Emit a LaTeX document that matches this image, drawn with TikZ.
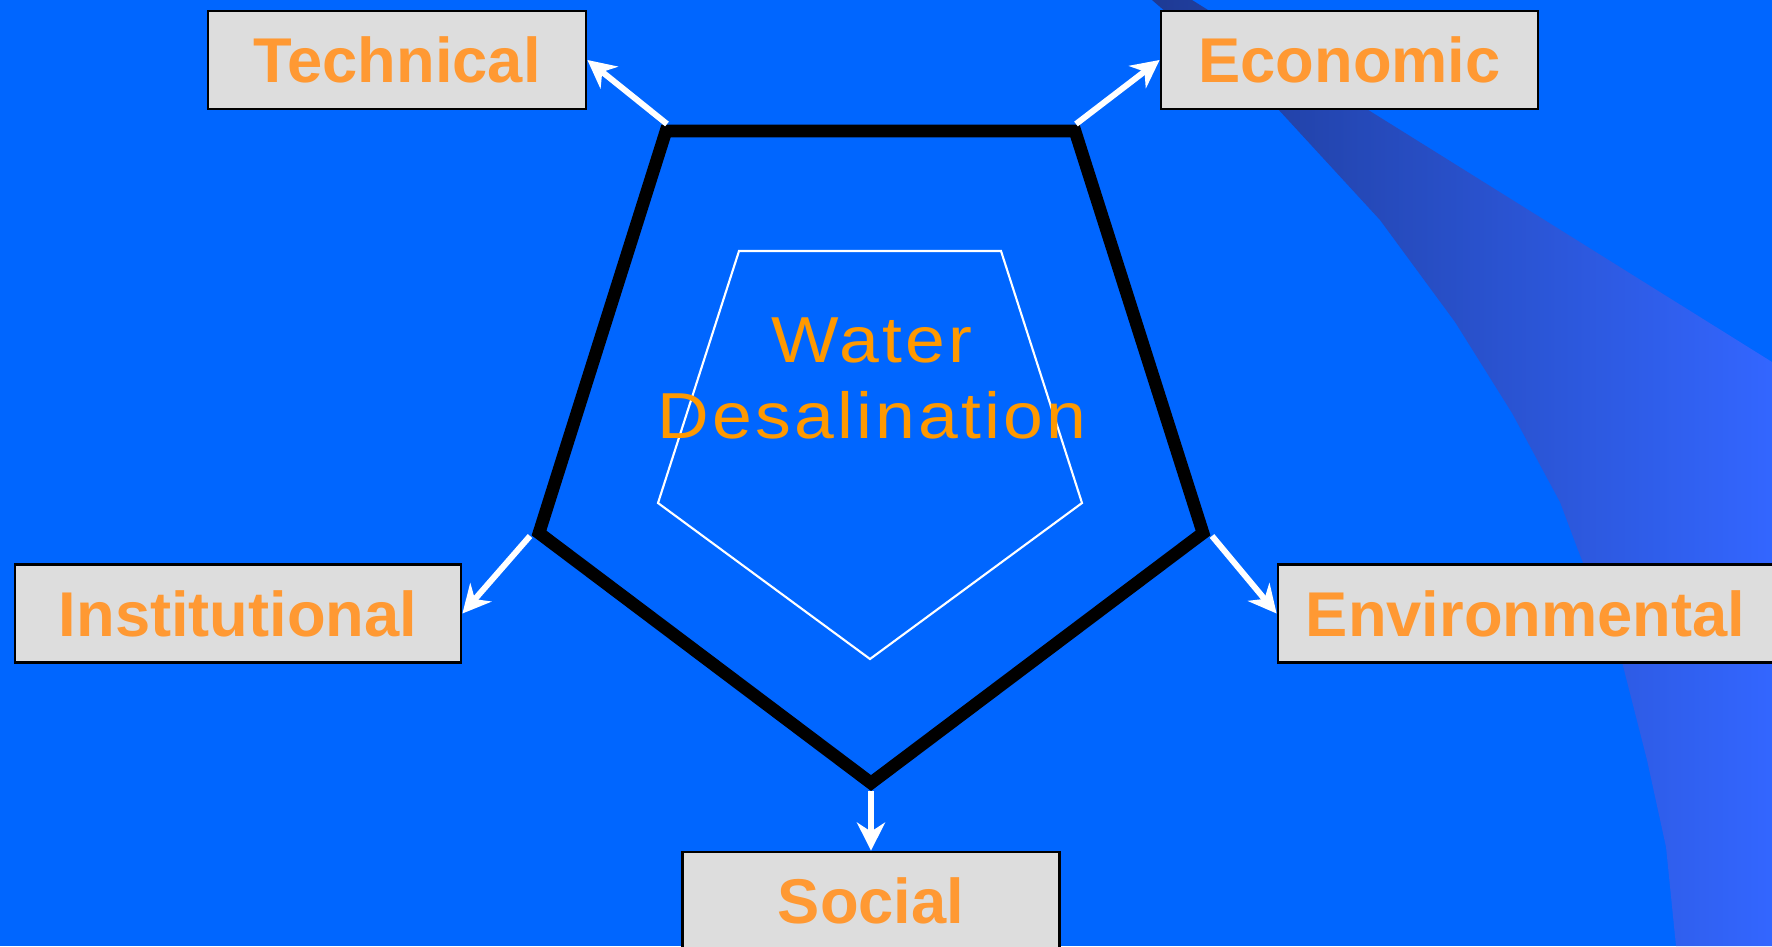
\documentclass[tikz,border=0pt]{standalone}
\usepackage{fontspec}
\setmainfont{Liberation Sans}
\newfontfamily\spacedfont[LetterSpace=5, FakeStretch=1.1]{Liberation Sans}
\usetikzlibrary{arrows.meta}
\definecolor{slideblue}{HTML}{0066FF}
\definecolor{boxgray}{HTML}{DDDDDD}
\definecolor{labelorange}{HTML}{FF9933}
\definecolor{waterorange}{HTML}{FF9900}
\definecolor{swooshdark}{HTML}{1E3A94}
\definecolor{swooshlight}{HTML}{3366FF}

\begin{document}
\begin{tikzpicture}[x=0.1mm, y=-0.1mm,
    >={Stealth[length=2.8mm,width=2.8mm,inset=0.9mm]},
    facet/.style={draw=black, line width=0.8pt, fill=boxgray, text=labelorange,
      font=\fontsize{18}{21}\selectfont\bfseries, inner sep=0pt, minimum height=9.8mm},
    rim/.style={line width=3.6pt, line join=miter},
    link/.style={->, white, line width=1.7pt}
  ]
  \useasboundingbox (0,0) rectangle (1772,946);
  \clip (0,0) rectangle (1772,946);
  \fill[slideblue] (0,0) rectangle (1772,946);

  % swoosh down the right side
  \shade[left color=swooshdark, right color=swooshlight]
    (1152,0) -- (1192,0) -- (1772,362) -- (1772,946) -- (1676,946)
    -- (1666,847) -- (1647,760) -- (1622,662) -- (1578,550) -- (1560,502)
    -- (1512,413) -- (1455,322) -- (1380,220) -- (1277,108) -- cycle;

  \coordinate (P1) at (666,131);   % top left
  \coordinate (P2) at (1075,131);  % top right
  \coordinate (P3) at (1203,533);  % right
  \coordinate (P4) at (871,783);   % bottom
  \coordinate (P5) at (539,533);   % left

  % where the arrows leave the rim
  \coordinate (F1) at (667,124);
  \coordinate (F2) at (1076,124);
  \coordinate (F3) at (1212,536);
  \coordinate (F4) at (871,791);
  \coordinate (F5) at (530,536);

  \draw[rim] (P1) -- (P2) -- (P3) -- (P4) -- (P5) -- cycle;
  \draw[white, line width=0.6pt]
    (739,251) -- (1001,251) -- (1082,503) -- (870,659) -- (658,503) -- cycle;

  \node[text=waterorange, font=\spacedfont\fontsize{18.5}{21.6}\selectfont, align=center]
    (core) at (872,378) {Water\\Desalination};

  \node[facet, minimum width=37.8mm] (tech) at (397,60) {Technical};
  \node[facet, minimum width=37.7mm] (econ) at (1349.5,60) {Economic};
  \node[facet, minimum width=44.6mm] (inst) at (238,613.5) {Institutional};
  \node[facet, minimum width=49.5mm] (env) at (1525.5,613.5) {Environmental};
  \node[facet, minimum width=37.7mm] (soc) at (871,901) {Social};

  \foreach \f/\b in {F1/tech.east, F2/econ.west, F3/env.west, F4/soc.north, F5/inst.east}
    \draw[link] (\f) -- (\b);
\end{tikzpicture}
\end{document}
